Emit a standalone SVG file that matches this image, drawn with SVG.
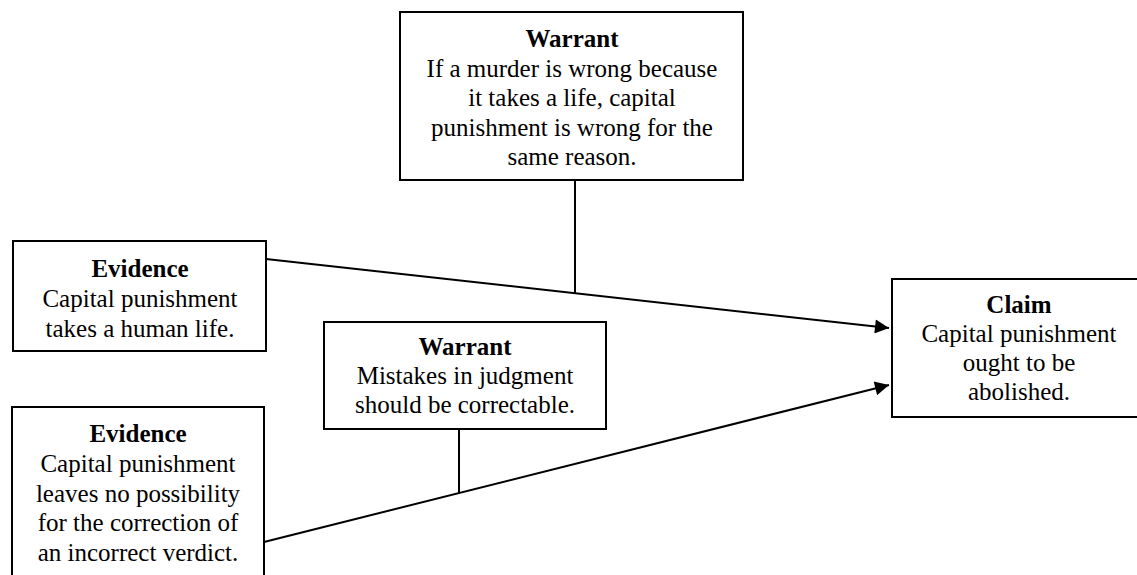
<svg xmlns="http://www.w3.org/2000/svg" width="1137" height="575" viewBox="0 0 1137 575">
<style>
.box{fill:#fff;stroke:#000;stroke-width:2}
.t{font-family:"Liberation Serif","Noto Serif","DejaVu Serif","Times New Roman",Times,serif;font-size:25px;fill:#000;text-anchor:middle}
.b{font-weight:bold}
.ln{stroke:#000;stroke-width:2;fill:none}
</style>
<defs>
<marker id="arr" viewBox="0 0 10 10" refX="10" refY="5" markerWidth="7.5" markerHeight="7" markerUnits="strokeWidth" orient="auto">
<path d="M0,0 L10,5 L0,10 z" fill="#000"/>
</marker>
</defs>
<rect width="1137" height="575" fill="#fff"/>
<g id="connectors">
<line class="ln" x1="266" y1="259" x2="889" y2="328" marker-end="url(#arr)"/>
<line class="ln" x1="264" y1="542" x2="889" y2="385" marker-end="url(#arr)"/>
<line class="ln" x1="575" y1="180" x2="575" y2="293"/>
<line class="ln" x1="459" y1="429" x2="459" y2="493"/>
</g>
<g id="warrant1">
<rect class="box" x="400" y="12" width="343" height="168"/>
<text class="t b" x="572" y="47">Warrant</text>
<text class="t" x="572" y="77">If a murder is wrong because</text>
<text class="t" x="572" y="106">it takes a life, capital</text>
<text class="t" x="572" y="136">punishment is wrong for the</text>
<text class="t" x="572" y="165">same reason.</text>
</g>
<g id="evidence1">
<rect class="box" x="13" y="241" width="253" height="110"/>
<text class="t b" x="140" y="277">Evidence</text>
<text class="t" x="140" y="307">Capital punishment</text>
<text class="t" x="140" y="337">takes a human life.</text>
</g>
<g id="warrant2">
<rect class="box" x="324" y="322" width="282" height="107"/>
<text class="t b" x="465" y="355">Warrant</text>
<text class="t" x="465" y="384">Mistakes in judgment</text>
<text class="t" x="465" y="413">should be correctable.</text>
</g>
<g id="evidence2">
<rect class="box" x="12" y="407" width="252" height="190"/>
<text class="t b" x="138" y="442">Evidence</text>
<text class="t" x="138" y="472">Capital punishment</text>
<text class="t" x="138" y="502">leaves no possibility</text>
<text class="t" x="138" y="531">for the correction of</text>
<text class="t" x="138" y="561">an incorrect verdict.</text>
</g>
<g id="claim">
<rect class="box" x="892" y="279" width="254" height="138"/>
<text class="t b" x="1019" y="313">Claim</text>
<text class="t" x="1019" y="342">Capital punishment</text>
<text class="t" x="1019" y="371">ought to be</text>
<text class="t" x="1019" y="400">abolished.</text>
</g>
</svg>
